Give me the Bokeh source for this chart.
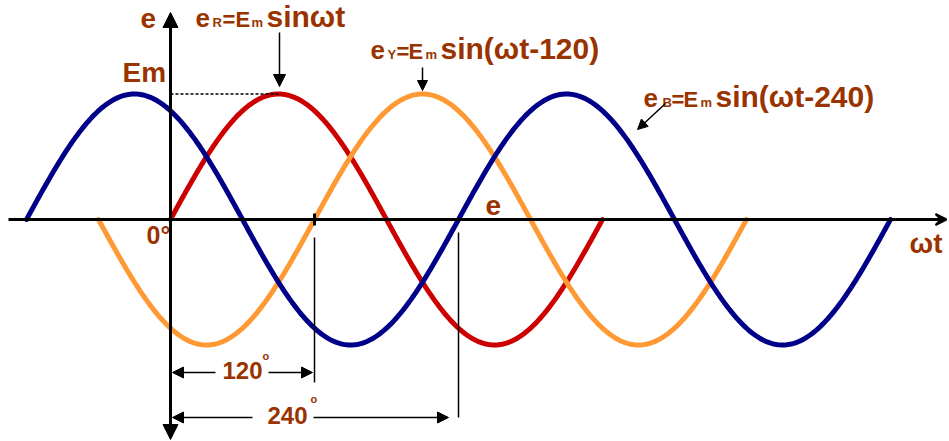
import numpy as np
from bokeh.plotting import figure
from bokeh.models import Arrow, NormalHead, VeeHead, Range1d, ColumnDataSource
from bokeh.core.properties import value
from bokeh.embed import file_html
from bokeh.resources import INLINE

# ---------------- data ----------------
Em = 1.0
phase_names = ["R", "Y", "B"]
phase_shift_deg = [0, 120, 240]          # e = Em sin(wt - shift)
wave_start_deg = [0, -60, -120]
wave_end_deg = [360, 480, 600]
wave_colors = ["#CC0000", "#FF9933", "#000088"]
dim_angles = [120, 240]                  # dimension marks
dim_labels = ["120", "240"]

BROWN = "#993300"
FONT = "Liberation Sans"

# picture-pixel helpers
PX0, PY0, SX, SY = 170.0, 219.0, 1.2, 125.5
def X(px):
    return (px - PX0) / SX
def Y(py):
    return (PY0 - py) / SY

W, H = 949, 441
p = figure(width=W, height=H, output_backend="svg", toolbar_location=None,
           x_range=Range1d(X(0), X(W)), y_range=Range1d(Y(H), Y(0)),
           x_axis_type=None, y_axis_type=None, min_border=0,
           outline_line_color=None)
p.xgrid.visible = False
p.ygrid.visible = False
p.background_fill_color = "white"
p.border_fill_color = "white"

# ---------------- axes ----------------
p.add_layout(Arrow(end=VeeHead(size=11, line_color="black", fill_color="black", line_width=2),
                   x_start=X(8), y_start=0, x_end=X(946), y_end=0,
                   line_width=3, line_color="black"))
p.add_layout(Arrow(end=NormalHead(size=15, line_color="black", fill_color="black"),
                   x_start=0, y_start=0, x_end=0, y_end=Y(12),
                   line_width=3, line_color="black"))
p.add_layout(Arrow(end=NormalHead(size=15, line_color="black", fill_color="black"),
                   x_start=0, y_start=0, x_end=0, y_end=Y(439),
                   line_width=3, line_color="black"))

# ---------------- waves ----------------
for name, sh, a, b, c in zip(phase_names, phase_shift_deg, wave_start_deg, wave_end_deg, wave_colors):
    xs = np.linspace(a, b, 600)
    ys = Em * np.sin(np.radians(xs - sh))
    p.line(xs, ys, line_color=c, line_width=5, line_cap="round", line_join="round")

# dotted Em line
p.line([0, 90], [Em, Em], line_color="black", line_width=1.5, line_dash="3 2")

# dimension verticals
p.segment(x0=[dim_angles[0]], y0=[Y(213)], x1=[dim_angles[0]], y1=[Y(225)],
          line_color="black", line_width=3)
p.segment(x0=[dim_angles[0], dim_angles[1]], y0=[Y(237), Y(232)],
          x1=[dim_angles[0], dim_angles[1]], y1=[Y(382), Y(417)],
          line_color="black", line_width=1.5)

def harrow(x0, x1, py, size=11):
    p.add_layout(Arrow(end=NormalHead(size=size, line_color="black", fill_color="black"),
                       x_start=X(x0), y_start=Y(py), x_end=X(x1), y_end=Y(py),
                       line_width=1.5, line_color="black"))

harrow(215, 172, 372)
harrow(268, 312, 372)
harrow(252, 172, 417)
harrow(313, 448, 417)

# label arrows
def arrow(x0, y0, x1, y1, size):
    p.add_layout(Arrow(end=NormalHead(size=size, line_color="black", fill_color="black"),
                       x_start=X(x0), y_start=Y(y0), x_end=X(x1), y_end=Y(y1),
                       line_width=1.5, line_color="black"))

arrow(279, 32, 279, 86, 12)
arrow(422, 67, 422, 90, 10)
arrow(665, 103, 637, 129, 10)

# ---------------- texts ----------------
T = dict(x=[], y=[], text=[], size=[])
def txt(s, px, py, size):
    # py is the wanted baseline; compensate renderer's baseline offset
    T["x"].append(X(px)); T["y"].append(Y(py - 0.357 * size))
    T["text"].append(s); T["size"].append(f"{size}px")

txt("e", 140, 28, 28)
txt("Em", 122, 82, 28)
txt("0°", 146, 243, 25)
txt("e", 485, 215, 28)
txt("ωt", 909, 253, 28)
txt(dim_labels[0], 222, 379, 24)
txt(dim_labels[1], 267, 424, 24)
txt("o", 262, 359, 11)
txt("o", 310, 402, 11)

def eq(sub, rest, px_list, py):
    pieces = ["e", sub, "=", "E", "m", rest]
    sizes = [26, 13, 22, 22, 13, 30]
    for s, x, z in zip(pieces, px_list, sizes):
        txt(s, x, py, z)

eq(phase_names[0], "sinωt", [195, 212, 222, 235, 251, 266], 27)
eq(phase_names[1], "sin(ωt-120)", [370, 387, 396, 408, 425, 440], 59)
eq(phase_names[2], "sin(ωt-240)", [643, 662, 671, 683, 700, 715], 107)

p.text(x="x", y="y", text="text", text_font_size="size", source=ColumnDataSource(T),
       text_font=value(FONT), text_font_style="bold", text_color=BROWN,
       text_align="left", text_baseline="alphabetic")

open("out.html", "w").write(file_html(p, INLINE))
